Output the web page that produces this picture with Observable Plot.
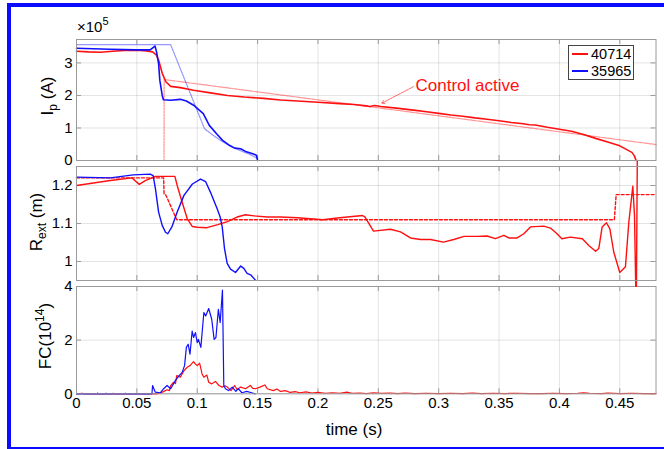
<!DOCTYPE html>
<html>
<head>
<meta charset="utf-8">
<script src="https://cdn.jsdelivr.net/npm/d3@7"></script>
<script src="https://cdn.jsdelivr.net/npm/@observablehq/plot@0.6"></script>
<style>
  body { margin: 0; background: #fff; }
  #wrap { position: relative; width: 664px; height: 449px; overflow: hidden; background: #fff;
          font-family: "Liberation Sans", Arial, Helvetica, sans-serif; color: #000; }
  #wrap svg { position: absolute; left: 0; top: 0; }
  .abs { position: absolute; white-space: nowrap; line-height: 1; }
  .rot { transform: translate(-50%, -50%) rotate(-90deg); }
  .ctr { transform: translate(-50%, -50%); }
  sub, sup { line-height: 0; }
</style>
</head>
<body>
<div id="wrap"></div>
<script>
// ---------------- DATA ----------------
const shots = ["40714", "35965"];
const xTicks = [0, 0.05, 0.1, 0.15, 0.2, 0.25, 0.3, 0.35, 0.4, 0.45];
const xTickLabels = ["0", "0.05", "0.1", "0.15", "0.2", "0.25", "0.3", "0.35", "0.4", "0.45"];
const ipTicks = [0, 1, 2, 3];
const ipTickLabels = ["0", "1", "2", "3"];
const rTicks = [1, 1.1, 1.2];
const rTickLabels = ["1", "1.1", "1.2"];
const fcTicks = [0, 2, 4];
const fcTickLabels = ["0", "2", "4"];

// Ip (x1e5 A): [time s, value]
const ipRed = [[0,3.36],[0.01,3.34],[0.02,3.33],[0.03,3.36],[0.04,3.38],[0.05,3.39],[0.058,3.37],[0.063,3.34],[0.066,3.25],[0.068,3.09],[0.071,2.68],[0.074,2.42],[0.078,2.28],[0.086,2.24],[0.097,2.16],[0.111,2.08],[0.125,2.0],[0.139,1.95],[0.155,1.91],[0.169,1.86],[0.183,1.83],[0.2,1.79],[0.218,1.75],[0.23,1.72],[0.24,1.68],[0.243,1.66],[0.247,1.69],[0.252,1.66],[0.265,1.61],[0.279,1.55],[0.29,1.5],[0.3,1.45],[0.31,1.4],[0.32,1.36],[0.33,1.31],[0.34,1.27],[0.35,1.22],[0.36,1.17],[0.37,1.13],[0.375,1.1],[0.38,1.09],[0.39,1.02],[0.4,0.96],[0.41,0.9],[0.42,0.8],[0.43,0.68],[0.44,0.57],[0.45,0.45],[0.455,0.35],[0.46,0.25],[0.462,0.15],[0.4635,0]];
const ipRedRef = [[0,0],[0.0725,0],[0.0726,2.49],[0.48,0.49]];
const ipBlue = [[0,3.45],[0.0276,3.42],[0.05,3.4],[0.061,3.4],[0.065,3.52],[0.0663,3.34],[0.068,2.98],[0.069,2.47],[0.071,2.0],[0.072,1.87],[0.078,1.85],[0.086,1.88],[0.091,1.83],[0.097,1.7],[0.105,1.44],[0.11,1.08],[0.116,0.82],[0.121,0.62],[0.127,0.46],[0.131,0.38],[0.136,0.36],[0.14,0.28],[0.146,0.21],[0.149,0.16],[0.15,0]];
const ipBlueRef = [[0,3.56],[0.078,3.56],[0.106,0.98],[0.113,0.78],[0.12,0.6],[0.128,0.43],[0.136,0.3],[0.144,0.18],[0.149,0.08]];

// R_ext (m)
const rRed = [[0,1.2],[0.028,1.213],[0.046,1.22],[0.052,1.203],[0.057,1.213],[0.0654,1.224],[0.072,1.224],[0.0815,1.224],[0.0834,1.2],[0.0875,1.156],[0.0917,1.113],[0.096,1.092],[0.1,1.09],[0.108,1.089],[0.117,1.097],[0.125,1.105],[0.133,1.117],[0.14,1.123],[0.147,1.12],[0.158,1.117],[0.169,1.117],[0.183,1.115],[0.204,1.11],[0.218,1.115],[0.237,1.121],[0.239,1.117],[0.246,1.08],[0.26,1.085],[0.2684,1.078],[0.2766,1.062],[0.285,1.058],[0.2932,1.058],[0.304,1.051],[0.3125,1.058],[0.321,1.066],[0.332,1.066],[0.34,1.067],[0.347,1.06],[0.354,1.069],[0.358,1.062],[0.365,1.062],[0.3705,1.073],[0.376,1.091],[0.387,1.093],[0.3926,1.088],[0.398,1.073],[0.402,1.06],[0.409,1.064],[0.419,1.06],[0.4243,1.042],[0.43,1.027],[0.4326,1.034],[0.4354,1.091],[0.439,1.102],[0.4418,1.086],[0.445,1.025],[0.45,0.971],[0.4547,0.986],[0.4575,1.104],[0.4608,1.198],[0.4622,1.12],[0.4632,0.935],[0.4638,0.935],[0.4645,1.265]];
const rRedRef = [[0,1.22],[0.0722,1.22],[0.0725,1.178],[0.074,1.175],[0.083,1.11],[0.4455,1.11],[0.447,1.176],[0.48,1.176]];
const rBlue = [[0,1.222],[0.028,1.22],[0.047,1.228],[0.061,1.23],[0.0635,1.226],[0.0654,1.191],[0.068,1.13],[0.071,1.095],[0.0737,1.077],[0.0756,1.073],[0.079,1.091],[0.0834,1.13],[0.089,1.174],[0.096,1.204],[0.1027,1.217],[0.107,1.21],[0.111,1.182],[0.1165,1.139],[0.119,1.117],[0.1207,1.091],[0.1226,1.034],[0.1248,0.995],[0.1276,0.98],[0.1317,0.971],[0.136,0.988],[0.1386,0.982],[0.1413,0.969],[0.1446,0.964],[0.1482,0.951]];

// FC (1e14)
const fcRed = [[0,0],[0.005,0.02],[0.006,0],[0.017,0],[0.0175,0.03],[0.018,0],[0.03,0],[0.0305,0.02],[0.031,0],[0.066,0],[0.0695,0.02],[0.072,0.08],[0.075,0.15],[0.077,0.12],[0.078,0.3],[0.0805,0.43],[0.082,0.38],[0.083,0.68],[0.086,0.62],[0.089,0.86],[0.0917,0.99],[0.094,1.05],[0.0958,1.14],[0.097,1.2],[0.0985,1.11],[0.1,1.05],[0.102,1.14],[0.104,0.74],[0.1055,0.62],[0.108,0.7],[0.1095,0.43],[0.112,0.37],[0.115,0.46],[0.118,0.31],[0.1206,0.25],[0.123,0.3],[0.125,0.25],[0.128,0.12],[0.131,0.31],[0.133,0.16],[0.136,0.25],[0.14,0.19],[0.144,0.31],[0.146,0.2],[0.148,0.19],[0.152,0.25],[0.156,0.33],[0.158,0.19],[0.163,0.12],[0.166,0.18],[0.169,0.09],[0.173,0.12],[0.177,0.05],[0.181,0.08],[0.185,0.04],[0.19,0.07],[0.195,0.03],[0.2,0.05],[0.206,0.02],[0.212,0.04],[0.218,0.02],[0.224,0.06],[0.228,0.02],[0.235,0.03],[0.24,0.01],[0.246,0.04],[0.252,0.02],[0.26,0.03],[0.266,0.01],[0.272,0.03],[0.28,0.01],[0.29,0.02],[0.3,0.01],[0.31,0.02],[0.32,0.01],[0.328,0.03],[0.335,0.01],[0.345,0.02],[0.355,0.01],[0.365,0.02],[0.375,0.01],[0.385,0.01],[0.395,0.02],[0.405,0.01],[0.415,0.02],[0.42,0.04],[0.425,0.02],[0.435,0.01],[0.44,0.03],[0.45,0.01],[0.46,0.02],[0.47,0.01],[0.48,0.01]];
const fcBlue = [[0,0],[0.024,0],[0.0245,0.02],[0.025,0],[0.04,0],[0.0405,0.02],[0.041,0],[0.0625,0],[0.063,0.31],[0.0653,0.06],[0.0695,0.04],[0.0722,0.19],[0.075,0.31],[0.078,0.19],[0.082,0.5],[0.085,0.68],[0.0875,0.8],[0.0895,1.05],[0.091,1.73],[0.0925,1.85],[0.094,1.48],[0.0958,2.34],[0.097,2.1],[0.0985,2.28],[0.1,1.91],[0.101,2.03],[0.103,1.73],[0.1055,3.03],[0.107,2.9],[0.1095,3.18],[0.112,2.78],[0.114,2.03],[0.1155,2.1],[0.1175,3.15],[0.119,2.66],[0.1209,3.87],[0.1214,2.28],[0.122,0.31],[0.1234,0.19],[0.126,0.12],[0.129,0.25],[0.132,0.09],[0.134,0.19],[0.137,0.04],[0.141,0.09],[0.145,0.04],[0.148,0]];

// annotation: [text x, text y, arrow tail x, tail y, head x, head y]
const annotText = "Control active";
const annot = [[0.2808, 2.31, 0.2791, 2.27, 0.2528, 1.76]];

// ---------------- DRAW ----------------
const RED = "#ff1010", BLUE = "#1010ff";
const FONT = '"Liberation Sans", Arial, Helvetica, sans-serif';
const xDomain = [0, 0.48];
const wrap = document.getElementById("wrap");

function pts(arr) { return arr.map(([t, v]) => ({t, v})); }

function panel({top, bottom, yDomain, ticks, labels, showX, marks}) {
  const W = 664, H = 449, ML = 76, MR = 8.5;
  const plotW = W - ML - MR, plotH = bottom - top;
  const yl = new Map(ticks.map((d, i) => [d, labels[i]]));
  const xl = new Map(xTicks.map((d, i) => [d, xTickLabels[i]]));
  const tickStyle = {stroke: "#9a9a9a", strokeWidth: 1};
  const m = [
    Plot.gridX(xTicks, {stroke: "#000", strokeOpacity: 0.11}),
    Plot.gridY(ticks, {stroke: "#000", strokeOpacity: 0.11}),
    Plot.tickY(ticks, {y: d => d, insetRight: plotW - 5, ...tickStyle}),
    Plot.tickY(ticks, {y: d => d, insetLeft: plotW - 5, ...tickStyle}),
    Plot.tickX(xTicks, {x: d => d, insetTop: plotH - 5, ...tickStyle}),
    Plot.tickX(xTicks, {x: d => d, insetBottom: plotH - 5, ...tickStyle}),
    Plot.axisY(ticks, {anchor: "left", tickSize: 0, tickPadding: 4, fontSize: 15, label: null,
                       tickFormat: d => yl.get(d)}),
    ...marks,
    Plot.frame({stroke: "#9a9a9a", strokeWidth: 1})
  ];
  if (showX) m.push(Plot.axisX(xTicks, {anchor: "bottom", tickSize: 0, tickPadding: 4, fontSize: 15, label: null,
                                        tickFormat: d => xl.get(d)}));
  return Plot.plot({
    width: W, height: H,
    marginLeft: ML, marginRight: MR, marginTop: top, marginBottom: H - bottom,
    style: {background: "transparent", fontFamily: FONT, color: "#000", overflow: "visible"},
    x: {domain: xDomain, label: null, ...(showX ? {} : {axis: null})},
    y: {domain: yDomain, label: null},
    marks: m
  });
}

const p1 = panel({
  top: 39, bottom: 160, yDomain: [0, 3.72], ticks: ipTicks, labels: ipTickLabels,
  marks: [
    Plot.line(pts(ipRedRef), {x: "t", y: "v", stroke: RED, strokeOpacity: 0.45, strokeWidth: 1.2, strokeDasharray: "2,1"}),
    Plot.line(pts(ipBlueRef), {x: "t", y: "v", stroke: BLUE, strokeOpacity: 0.45, strokeWidth: 1.2, strokeDasharray: "2,1"}),
    Plot.line(pts(ipRed), {x: "t", y: "v", stroke: RED, strokeWidth: 1.6}),
    Plot.line(pts(ipBlue), {x: "t", y: "v", stroke: BLUE, strokeWidth: 1.6}),
    Plot.arrow(annot, {x1: d => d[2], y1: d => d[3], x2: d => d[4], y2: d => d[5], stroke: RED,
                       strokeWidth: 0.8, strokeOpacity: 0.8, headLength: 6, strokeDasharray: "2,1"}),
    Plot.text(annot, {x: d => d[0], y: d => d[1], text: () => annotText, fill: RED, fontSize: 17,
                      textAnchor: "start", fontFamily: FONT})
  ]
});
const p2 = panel({
  top: 166, bottom: 280, yDomain: [0.95, 1.25], ticks: rTicks, labels: rTickLabels,
  marks: [
    Plot.line(pts(rRedRef), {x: "t", y: "v", stroke: RED, strokeWidth: 1.4, strokeDasharray: "3,2"}),
    Plot.line(pts(rRed), {x: "t", y: "v", stroke: RED, strokeWidth: 1.4}),
    Plot.line(pts(rBlue), {x: "t", y: "v", stroke: BLUE, strokeWidth: 1.4})
  ]
});
const p3 = panel({
  top: 286, bottom: 393.3, yDomain: [0, 4], ticks: fcTicks, labels: fcTickLabels, showX: true,
  marks: [
    Plot.line(pts(fcRed), {x: "t", y: "v", stroke: RED, strokeWidth: 1.2}),
    Plot.line(pts(fcBlue), {x: "t", y: "v", stroke: BLUE, strokeWidth: 1.2})
  ]
});
wrap.append(p3, p2, p1);

// Texts (labels, legend, border)
wrap.insertAdjacentHTML("beforeend", `
  <div class="abs" style="left:7px;top:3px;width:700px;height:446px;box-sizing:border-box;border-top:4px solid #0b0bff;border-left:4px solid #0b0bff;border-bottom:2px solid #0b0bff;"></div>
  <div class="abs" style="left:77px;top:19px;font-size:15px;">&times;10<sup style="font-size:11px;vertical-align:7px">5</sup></div>
  <div class="abs rot" style="left:47px;top:96px;font-size:17px;">I<sub style="font-size:12px;vertical-align:-4px">p</sub> (A)</div>
  <div class="abs rot" style="left:36px;top:222px;font-size:17px;">R<sub style="font-size:12px;vertical-align:-4px">ext</sub> (m)</div>
  <div class="abs rot" style="left:45px;top:336px;font-size:17px;">FC(10<sup style="font-size:12px;vertical-align:7px">14</sup>)</div>
  <div class="abs ctr" style="left:354px;top:429px;font-size:17px;">time (s)</div>
  <div class="abs" style="left:568px;top:45px;width:66px;height:35px;box-sizing:border-box;border:1px solid #444;background:#fff;font-size:14.5px;">
    <div class="abs" style="left:3px;top:7px;width:16px;height:1.6px;background:${RED}"></div>
    <div class="abs" style="left:22px;top:1px;">${shots[0]}</div>
    <div class="abs" style="left:3px;top:24px;width:16px;height:1.6px;background:${BLUE}"></div>
    <div class="abs" style="left:22px;top:18px;">${shots[1]}</div>
  </div>
`);
</script>
</body>
</html>
